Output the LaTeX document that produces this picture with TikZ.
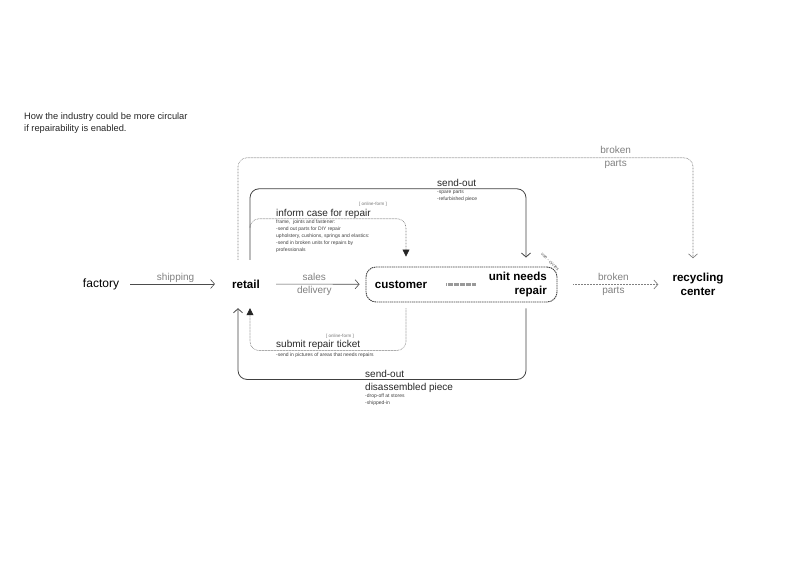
\documentclass[tikz,border=0pt]{standalone}
\usepackage{fontspec}
\setmainfont{Liberation Sans}
\usetikzlibrary{arrows.meta}
\tikzset{>={Straight Barb[length=4pt,width=9pt]},
  plain/.style={font=\fontsize{12}{14.5}\selectfont, inner sep=3pt},
  main/.style={font=\fontsize{11.6}{14}\selectfont\bfseries, align=center, inner sep=3pt},
  lbl/.style={font=\fontsize{10}{13}\selectfont, text=black!50, align=center, inner sep=1pt},
  head/.style={font=\fontsize{10}{12}\selectfont, text=black!85, inner sep=0pt, anchor=base west},
  tiny/.style={font=\fontsize{5}{7}\selectfont, text=black!75, align=left, inner sep=0pt, anchor=north west},
  form/.style={font=\fontsize{4.5}{5}\selectfont, text=black!55, inner sep=0pt},
  flow/.style={draw=black!70, line width=0.6pt},
  solidline/.style={draw=black!75, line width=0.8pt, rounded corners=9pt},
  dotline/.style={draw=black!50, line width=0.7pt, dash pattern=on 0.6pt off 0.9pt, rounded corners=9pt},
  fillhead/.style={-{Triangle[length=7pt,width=7pt,color=black!85,fill=black!85]}}
}

\begin{document}
\begin{tikzpicture}[x=1pt,y=-1pt]
  \useasboundingbox (0,0) rectangle (804,569);
  \node[anchor=west, align=left, font=\fontsize{9.3}{12}\selectfont, text=black!85, inner sep=0pt] (title) at (24,123) {How the industry could be more circular\\if repairability is enabled.};

  \node[plain] (factory) at (101,284) {factory};
  \node[main, minimum height=48pt] (retail) at (246,284) {retail};
  \node[draw=black!75, line width=0.9pt, dash pattern=on 1.5pt off 0.7pt, rounded corners=10pt, minimum width=191pt, minimum height=35pt] (loop) at (461.5,284.5) {};
  \node[main] (customer) at (401,285) {customer};
  \node[main, align=right, anchor=east] (unit) at (550,285) {unit needs\\repair};
  \node[main, minimum height=52pt] (recycling) at (698,284.5) {recycling\\center};
  \node[form, rotate=-45, text=black!65] (usecycles) at (550,262) {use - cycles};

  \draw[flow, ->, shorten <=8pt, shorten >=14pt] (factory) -- (retail) node[lbl, midway, above] (shiplbl) {shipping};
  \draw[flow, ->, shorten <=13pt, shorten >=6pt] (retail) -- (loop) node[lbl, midway] (saleslbl) {sales\\delivery};
  \draw[dotline, ->, shorten <=16pt, shorten >=11pt] (loop) -- (recycling) node[lbl, midway] (brokenlbl) {broken\\parts};
  \draw[line width=3pt, black!40, dash pattern=on 0.6pt off 0.6pt, shorten <=16pt, shorten >=10pt] (customer) -- (unit);

  \draw[dotline, ->] ([xshift=-8pt]retail.north) -- ++(0,-102) -| ([xshift=-5pt]recycling.north) node[lbl, pos=0.415] (brokentop) {broken\\parts};

  \draw[solidline, ->, shorten >=9pt] ([xshift=4pt]retail.north) -- ++(0,-71) -| ([xshift=64.5pt]loop.north);
  \node[head] (sendtop) at (437,186.5) {send-out};
  \node[tiny] (sparelist) at (437,190) {-spare parts\\-refurbished piece};

  \draw[dotline, fillhead, shorten >=10pt] ([xshift=4pt,yshift=35pt]retail.north) -- ++(0,-6) -| ([xshift=-55.5pt]loop.north);
  \node[form] (formtop) at (373,204) {[ online-form ]};
  \node[head] (informhd) at (276,216.5) {inform case for repair};
  \node[tiny] (informlist) at (276,220) {frame,\ \ joints and fastener:\\-send out parts for DIY repair\\upholstery, cushions, springs and elastics:\\-send in broken units for repairs by\\professionals};

  \draw[dotline, fillhead, shorten <=6pt] ([xshift=-55.5pt]loop.south) -- ++(0,48) -| ([xshift=4pt]retail.south);
  \node[form] (formbot) at (340,336) {[ online-form ]};
  \node[head] (submithd) at (276,347.5) {submit repair ticket};
  \node[tiny] (submitlist) at (276,353) {-send in pictures of areas that needs repairs};

  \draw[solidline, ->, shorten <=6pt] ([xshift=64.5pt]loop.south) -- ++(0,77) -| ([xshift=-8pt]retail.south);
  \node[head] (sendbot) at (365,378) {send-out};
  \node[head] (piecehd) at (365,391) {disassembled piece};
  \node[tiny] (piecelist) at (365,393.5) {-drop-off at stores\\-shipped-in};
\end{tikzpicture}
\end{document}
